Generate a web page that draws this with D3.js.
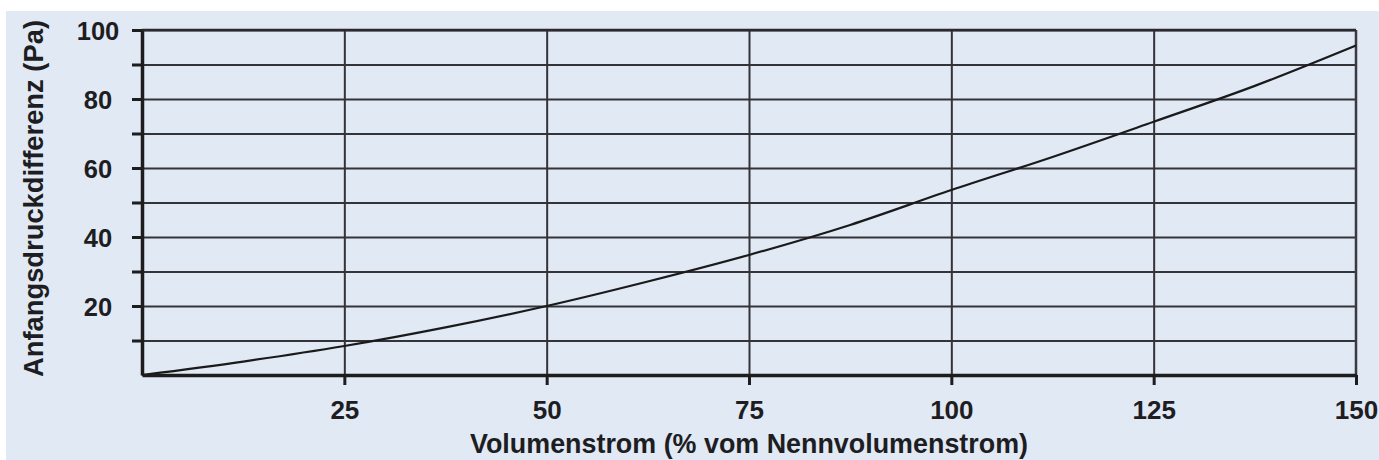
<!DOCTYPE html>
<html>
<head>
<meta charset="utf-8">
<script src="https://cdn.jsdelivr.net/npm/d3@7"></script>
<style>
  html, body { margin: 0; padding: 0; background: #ffffff; }
  svg { display: block; }
  text { font-family: "Liberation Sans", Arial, sans-serif; font-weight: bold; fill: #1d1d22; }
</style>
</head>
<body>
<svg id="chart" width="1379" height="460"></svg>
<script>
// ---- data ----
const flowPercent = [0, 12.5, 25, 37.5, 50, 62.5, 75, 87.5, 100, 112.5, 125, 137.5, 150];
const pressurePa  = [0, 3.9, 8.4, 13.8, 20, 27.1, 34.8, 43.5, 53.6, 63.2, 73.4, 83.8, 95.5];
const xTickValues = [25, 50, 75, 100, 125, 150];
const xGridValues = [25, 50, 75, 100, 125];
const yTickValues = [10, 20, 30, 40, 50, 60, 70, 80, 90, 100];
const yLabelValues = [20, 40, 60, 80, 100];
const xTitle = "Volumenstrom (% vom Nennvolumenstrom)";
const yTitle = "Anfangsdruckdifferenz (Pa)";

const svg = d3.select("#chart");
const W = 1379, H = 460;
const mLeft = 142, mRight = 1356, mTop = 30, mBottom = 375;

// background panel
svg.append("rect").attr("x", 6).attr("y", 11).attr("width", W - 6).attr("height", H - 11).attr("fill", "#e1e9f5");

const x = d3.scaleLinear().domain([0, 150]).range([mLeft, mRight]);
const y = d3.scaleLinear().domain([0, 100]).range([mBottom, mTop]);

const gridColor = "#333338";

// horizontal gridlines
const yGrid = svg.append("g").attr("transform", `translate(${mLeft},0)`)
  .call(d3.axisLeft(y).tickValues(yTickValues).tickSize(-(mRight - mLeft)).tickFormat(""));
yGrid.select(".domain").remove();
yGrid.selectAll("line").attr("stroke", gridColor).attr("stroke-width", 2);

// vertical gridlines
const xGrid = svg.append("g").attr("transform", `translate(0,${mBottom})`)
  .call(d3.axisBottom(x).tickValues(xGridValues).tickSize(-(mBottom - mTop)).tickFormat(""));
xGrid.select(".domain").remove();
xGrid.selectAll("line").attr("stroke", gridColor).attr("stroke-width", 2);

// right border
svg.append("line").attr("x1", x(150)).attr("x2", x(150)).attr("y1", y(100)).attr("y2", y(0))
  .attr("stroke", "#3a3a40").attr("stroke-width", 2.5);

// curve
const line = d3.line().x((d, i) => x(flowPercent[i])).y(d => y(d)).curve(d3.curveMonotoneX);
svg.append("path").datum(pressurePa).attr("d", line)
  .attr("fill", "none").attr("stroke", "#1a1a1a").attr("stroke-width", 2.2);

// y axis
const yAxis = svg.append("g").attr("transform", `translate(${mLeft},0)`)
  .call(d3.axisLeft(y).tickValues(yTickValues).tickSizeInner(10).tickSizeOuter(0)
    .tickFormat(d => yLabelValues.includes(d) ? String(d) : ""));
yAxis.select(".domain").attr("stroke", "#1d1d1d").attr("stroke-width", 3.5);
yAxis.selectAll(".tick line").attr("stroke", "#1d1d1d").attr("stroke-width", 3);
yAxis.selectAll(".tick text").attr("x", -44).attr("text-anchor", "middle")
  .attr("dy", "0.36em").style("font-size", "25.5px").style("font-family", "'Liberation Sans', Arial, sans-serif").style("font-weight", "bold").attr("fill", "#1d1d22");

// x axis
const xAxis = svg.append("g").attr("transform", `translate(0,${mBottom})`)
  .call(d3.axisBottom(x).tickValues(xTickValues).tickSizeInner(10).tickSizeOuter(0));
xAxis.select(".domain").attr("stroke", "#1d1d1d").attr("stroke-width", 3.5);
xAxis.selectAll(".tick line").attr("stroke", "#1d1d1d").attr("stroke-width", 3);
xAxis.selectAll(".tick text").attr("y", 35).attr("dy", "0.36em")
  .style("font-size", "26px").style("font-family", "'Liberation Sans', Arial, sans-serif").style("font-weight", "bold").attr("fill", "#1d1d22");

// top border on top of axes
svg.append("line").attr("x1", x(0)).attr("x2", x(150)).attr("y1", y(100)).attr("y2", y(100))
  .attr("stroke", "#2a2a2e").attr("stroke-width", 2.5);

// axis titles
svg.append("text").attr("x", (mLeft + mRight) / 2).attr("y", 453)
  .attr("text-anchor", "middle").style("font-size", "28px")
  .attr("textLength", 558).attr("lengthAdjust", "spacingAndGlyphs")
  .text(xTitle);

svg.append("text").attr("transform", `translate(43,${(20 + 377) / 2}) rotate(-90)`)
  .attr("text-anchor", "middle").style("font-size", "28px")
  .attr("textLength", 357).attr("lengthAdjust", "spacingAndGlyphs")
  .text(yTitle);
</script>
</body>
</html>
